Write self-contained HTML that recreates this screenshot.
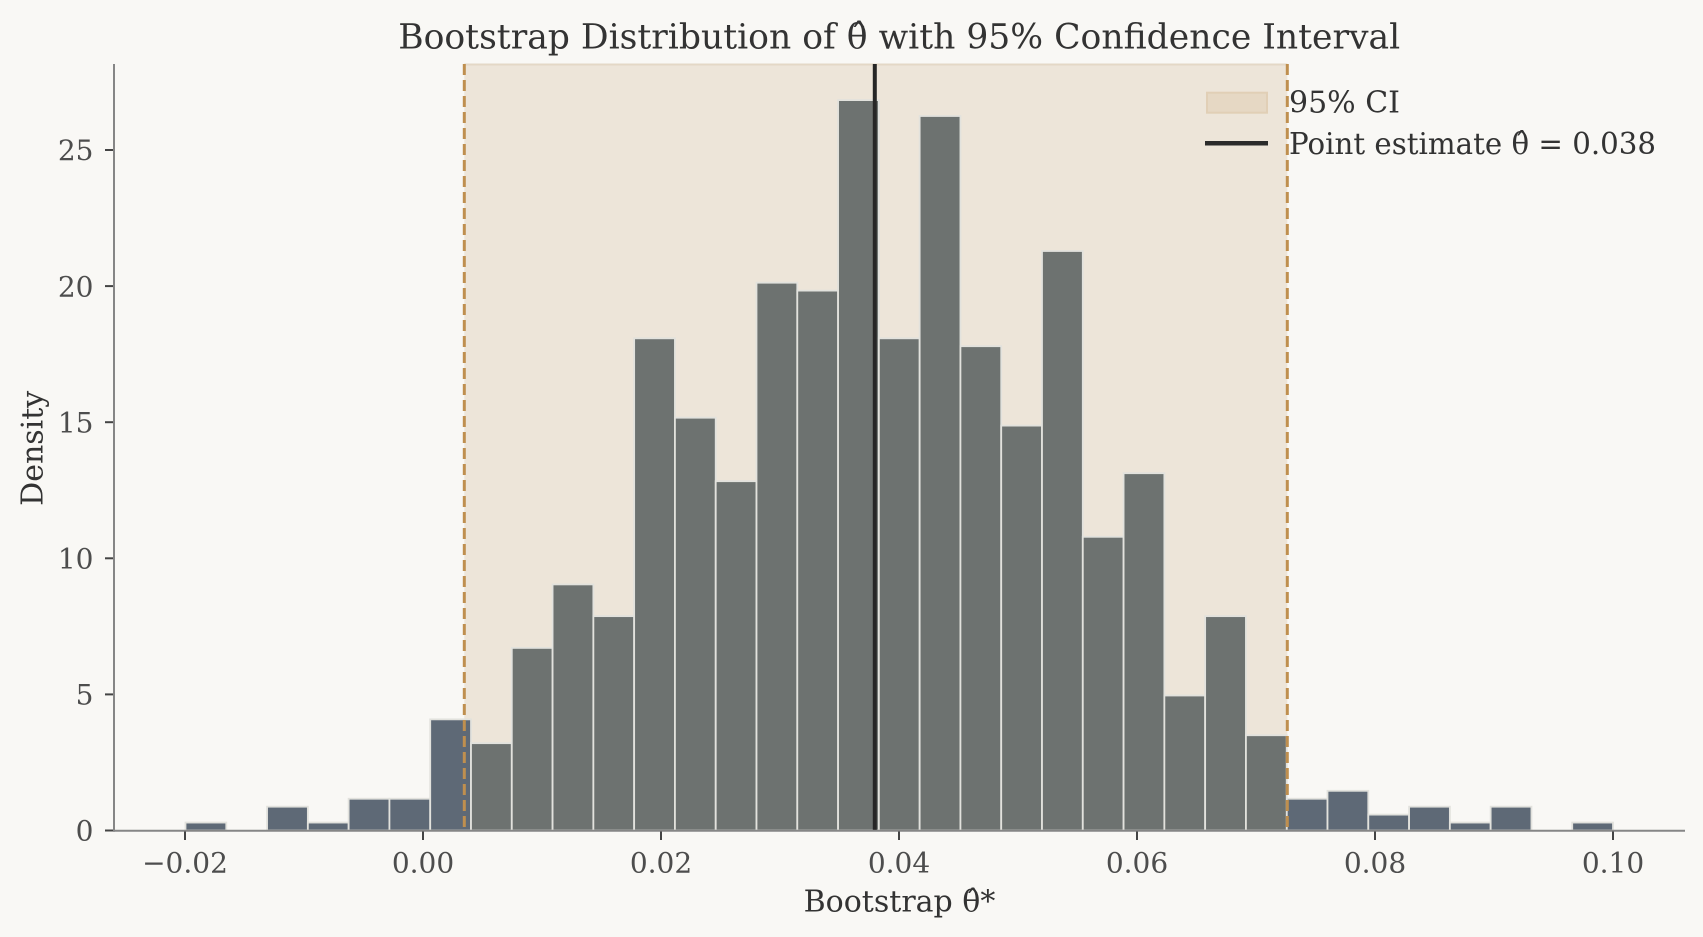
<!DOCTYPE html>
<html>
<head>
<meta charset="utf-8">
<style>
html,body{margin:0;padding:0;background:#f9f8f5;}
svg{display:block;}
text{font-family:"DejaVu Serif","Liberation Serif",serif;}
</style>
</head>
<body>
<svg width="1703" height="937" viewBox="0 0 1703 937" xmlns="http://www.w3.org/2000/svg">
<rect x="0" y="0" width="1703" height="937" fill="#f9f8f5"/>

<!-- CI span -->
<rect x="464.3" y="64" width="823" height="766.5" fill="#ede5d9"/>
<line x1="464.3" y1="64.5" x2="1287.3" y2="64.5" stroke="#e4d8c6" stroke-width="2"/>

<!-- bars -->
<g stroke="#e2e2dd" stroke-width="1.8">
<g fill="#5e6976">
<rect x="185.5" y="822.56" width="40.79" height="7.94"/>
<rect x="267.07" y="806.68" width="40.79" height="23.82"/>
<rect x="307.86" y="822.56" width="40.79" height="7.94"/>
<rect x="348.64" y="798.74" width="40.79" height="31.76"/>
<rect x="389.43" y="798.74" width="40.79" height="31.76"/>
<rect x="430.22" y="719.35" width="40.79" height="111.15"/>
<rect x="1286.72" y="798.74" width="40.79" height="31.76"/>
<rect x="1327.5" y="790.8" width="40.79" height="39.7"/>
<rect x="1368.29" y="814.62" width="40.79" height="15.88"/>
<rect x="1409.08" y="806.68" width="40.79" height="23.82"/>
<rect x="1449.86" y="822.56" width="40.79" height="7.94"/>
<rect x="1490.65" y="806.68" width="40.79" height="23.82"/>
<rect x="1572.22" y="822.56" width="40.79" height="7.94"/>
</g>
<g fill="#6d7270">
<rect x="471.0" y="743.17" width="40.79" height="87.33"/>
<rect x="511.79" y="647.9" width="40.79" height="182.6"/>
<rect x="552.57" y="584.4" width="40.79" height="246.1"/>
<rect x="593.36" y="616.15" width="40.79" height="214.35"/>
<rect x="634.15" y="338.3" width="40.79" height="492.2"/>
<rect x="674.93" y="417.7" width="40.79" height="412.8"/>
<rect x="715.72" y="481.2" width="40.79" height="349.3"/>
<rect x="756.5" y="282.7" width="40.79" height="547.8"/>
<rect x="797.29" y="290.6" width="40.79" height="539.9"/>
<rect x="838.08" y="100.1" width="40.79" height="730.4"/>
<rect x="878.86" y="338.3" width="40.79" height="492.2"/>
<rect x="919.65" y="116.0" width="40.79" height="714.5"/>
<rect x="960.43" y="346.2" width="40.79" height="484.3"/>
<rect x="1001.22" y="425.6" width="40.79" height="404.9"/>
<rect x="1042.0" y="251.0" width="40.79" height="579.5"/>
<rect x="1082.79" y="536.8" width="40.79" height="293.7"/>
<rect x="1123.58" y="473.2" width="40.79" height="357.3"/>
<rect x="1164.36" y="695.5" width="40.79" height="135.0"/>
<rect x="1205.15" y="616.15" width="40.79" height="214.35"/>
<rect x="1245.93" y="735.23" width="40.79" height="95.27"/>
</g>
</g>

<!-- CI dashed lines -->
<line x1="464.3" y1="64" x2="464.3" y2="830.5" stroke="#bf8f4f" stroke-width="3" stroke-dasharray="11 5"/>
<line x1="1287.3" y1="64" x2="1287.3" y2="830.5" stroke="#bf8f4f" stroke-width="3" stroke-dasharray="11 5"/>

<!-- point estimate -->
<line x1="874.8" y1="64" x2="874.8" y2="830.5" stroke="#262626" stroke-width="4"/>

<!-- spines -->
<line x1="114" y1="64" x2="114" y2="831.7" stroke="#868686" stroke-width="2"/>
<line x1="113" y1="830.7" x2="1685" y2="830.7" stroke="#868686" stroke-width="2"/>

<!-- y ticks -->
<g stroke="#444" stroke-width="2">
<line x1="105" y1="830.5" x2="113" y2="830.5"/>
<line x1="105" y1="694.4" x2="113" y2="694.4"/>
<line x1="105" y1="558.3" x2="113" y2="558.3"/>
<line x1="105" y1="422.2" x2="113" y2="422.2"/>
<line x1="105" y1="286.1" x2="113" y2="286.1"/>
<line x1="105" y1="150" x2="113" y2="150"/>
</g>
<g font-size="28" fill="#4d4d4d" text-anchor="end">
<text x="93.5" y="840.7">0</text>
<text x="93.5" y="704.6">5</text>
<text x="93.5" y="568.5">10</text>
<text x="93.5" y="432.4">15</text>
<text x="93.5" y="296.3">20</text>
<text x="93.5" y="160.2">25</text>
</g>

<!-- x ticks -->
<g stroke="#444" stroke-width="2">
<line x1="185" y1="831.5" x2="185" y2="840"/>
<line x1="423" y1="831.5" x2="423" y2="840"/>
<line x1="661" y1="831.5" x2="661" y2="840"/>
<line x1="899" y1="831.5" x2="899" y2="840"/>
<line x1="1137" y1="831.5" x2="1137" y2="840"/>
<line x1="1375" y1="831.5" x2="1375" y2="840"/>
<line x1="1613" y1="831.5" x2="1613" y2="840"/>
</g>
<g font-size="28" fill="#4d4d4d" text-anchor="middle">
<text x="185" y="872.3">−0.02</text>
<text x="423" y="872.3">0.00</text>
<text x="661" y="872.3">0.02</text>
<text x="899" y="872.3">0.04</text>
<text x="1137" y="872.3">0.06</text>
<text x="1375" y="872.3">0.08</text>
<text x="1613" y="872.3">0.10</text>
</g>

<!-- axis labels -->
<text x="899.5" y="911.7" font-size="30" fill="#333" text-anchor="middle">Bootstrap θ̂*</text>
<text transform="translate(42.7,448.3) rotate(-90)" font-size="30" fill="#333" text-anchor="middle">Density</text>

<!-- title -->
<text x="899.2" y="48.3" font-size="35" fill="#333" text-anchor="middle" textLength="1002" lengthAdjust="spacingAndGlyphs">Bootstrap Distribution of θ̂ with 95% Confidence Interval</text>

<!-- legend -->
<rect x="1207" y="92.7" width="60" height="20" fill="#e6d8c4" stroke="#e1cfb6" stroke-width="2"/>
<line x1="1205" y1="143.3" x2="1268" y2="143.3" stroke="#2b2b2b" stroke-width="4.5"/>
<text x="1289" y="112.3" font-size="30" fill="#333">95% CI</text>
<text x="1289" y="154" font-size="30" fill="#333" textLength="367" lengthAdjust="spacingAndGlyphs">Point estimate θ̂ = 0.038</text>
</svg>
</body>
</html>
